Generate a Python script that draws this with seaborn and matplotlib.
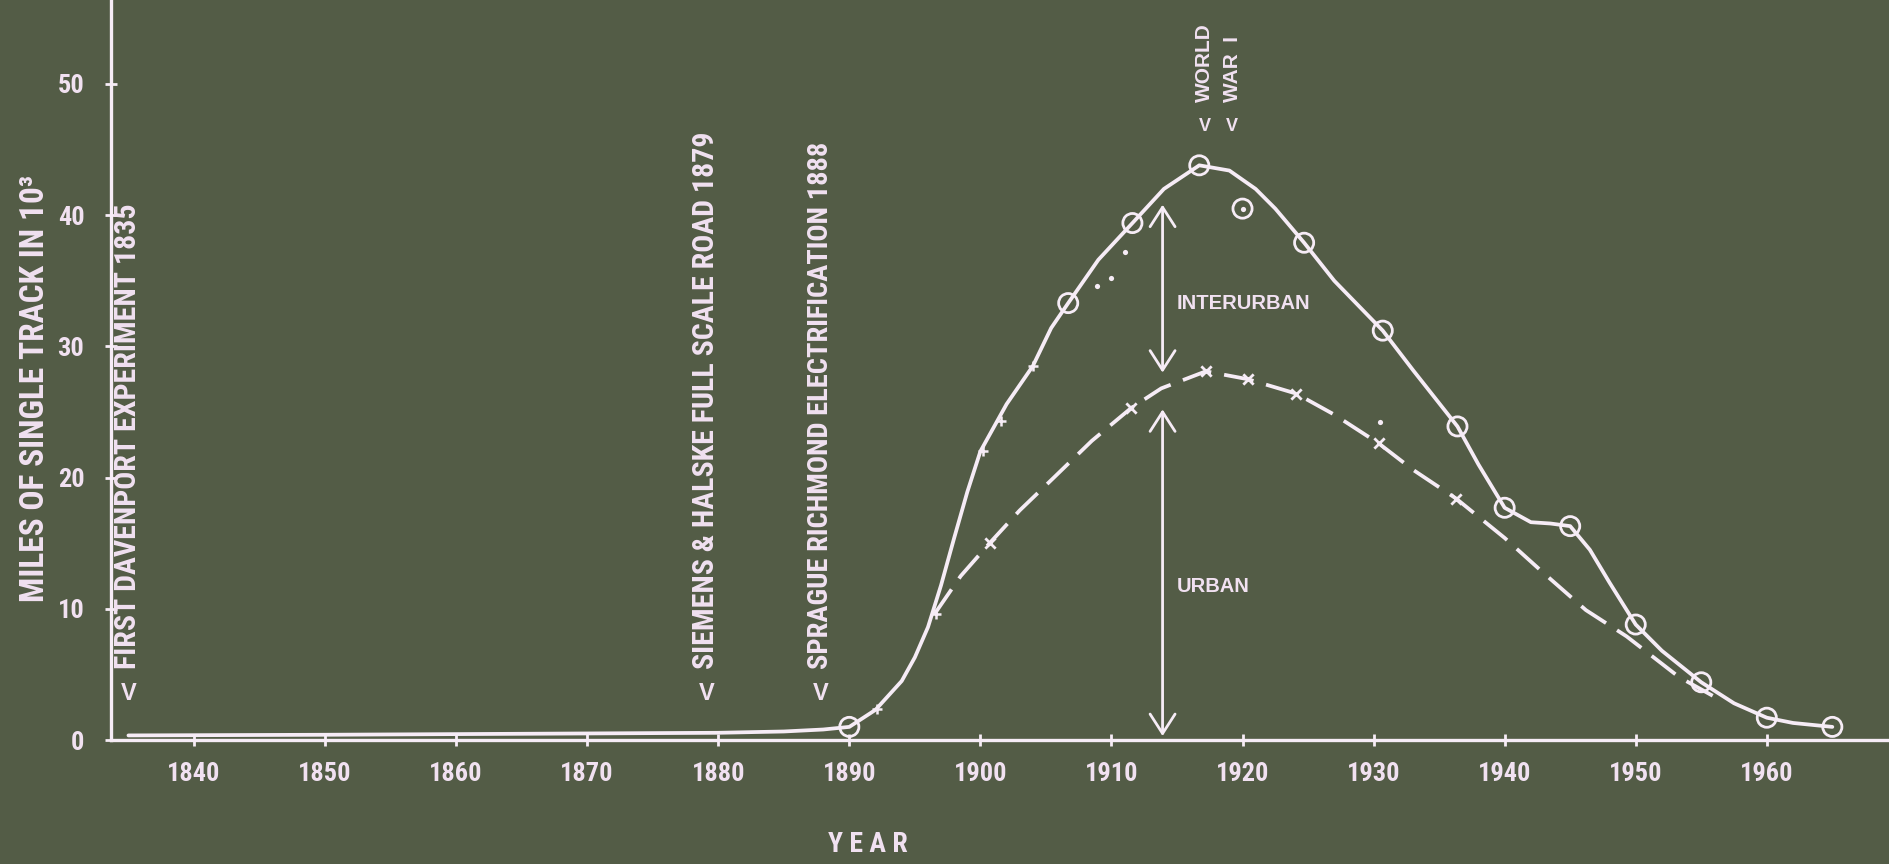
import matplotlib
matplotlib.use("Agg")
import matplotlib.pyplot as plt
from matplotlib import font_manager
import seaborn as sns

# total track miles (solid curve), thousands of miles
total_years = [1835, 1850, 1860, 1870, 1880, 1885, 1888, 1890, 1892, 1894, 1895, 1896,
               1897, 1898, 1899, 1900, 1902, 1904, 1905.4, 1906.7, 1909, 1911.6, 1914,
               1916.7, 1919, 1921, 1922.5, 1924.7, 1927, 1930.7, 1933, 1936.4, 1938,
               1940, 1942, 1943.5, 1945, 1946.5, 1948, 1950, 1952, 1955, 1957.5, 1960,
               1962, 1965]
total_miles = [0.35, 0.4, 0.45, 0.5, 0.55, 0.65, 0.8, 1.0, 2.3, 4.5, 6.3, 8.6,
               11.8, 15.4, 18.9, 22.0, 25.6, 28.5, 31.4, 33.3, 36.6, 39.4, 42.0,
               43.8, 43.4, 42.0, 40.5, 37.9, 35.0, 31.2, 28.2, 23.9, 21.0,
               17.7, 16.6, 16.5, 16.3, 14.5, 12.0, 8.8, 6.8, 4.4, 2.8, 1.7,
               1.3, 1.0]

# plotted observations (open circles)
circle_years = [1890, 1906.7, 1911.6, 1916.7, 1920.0, 1924.7, 1930.7, 1936.4,
                1940, 1945, 1950, 1955, 1960, 1965]
circle_miles = [1.0, 33.3, 39.4, 43.8, 40.5, 37.9, 31.2, 23.9,
                17.7, 16.3, 8.8, 4.4, 1.7, 1.0]

# urban track (dashed curve)
urban_years = [1896.5, 1898.5, 1900.7, 1903, 1905.5, 1908.5, 1911.5, 1913.8, 1917.2,
               1920.4, 1924.1, 1927, 1930.4, 1933, 1936.3, 1940, 1943, 1946.2,
               1949.3, 1953.3, 1956]
urban_miles = [9.6, 12.5, 15.0, 17.5, 19.9, 22.8, 25.3, 26.8, 28.1,
               27.5, 26.4, 24.8, 22.6, 20.6, 18.4, 15.4, 12.7, 9.9,
               7.9, 4.8, 3.3]
cross_years = [1900.7, 1911.5, 1917.2, 1920.4, 1924.1, 1930.4, 1936.3]
cross_miles = [15.0, 25.3, 28.1, 27.5, 26.4, 22.6, 18.4]

# stray marks on the slide
tick_years = [1892.1, 1896.6, 1900.2, 1901.6, 1904.0]
tick_miles = [2.4, 9.6, 22.0, 24.3, 28.5]
dot_years = [1908.9, 1910.0, 1911.0, 1920.0, 1930.5]
dot_miles = [34.6, 35.2, 37.2, 40.5, 24.2]

events = ["FIRST DAVENPORT EXPERIMENT 1835",
          "SIEMENS & HALSKE FULL SCALE ROAD 1879",
          "SPRAGUE RICHMOND ELECTRIFICATION 1888"]
event_years = [1835, 1879.1, 1887.8]
event_sizes = [21.5, 21.5, 20.5]
war_lines = ["WORLD", "WAR  I"]
war_years = [1917.1, 1919.2]

xticks = [1840, 1850, 1860, 1870, 1880, 1890, 1900, 1910, 1920, 1930, 1940, 1950, 1960]
yticks = [0, 10, 20, 30, 40, 50]

bg = "#535c46"
fg = "#f6ecf6"
txt = "#f1e1f1"

sns.set_theme(style="ticks", rc={"axes.facecolor": bg, "figure.facecolor": bg})

names = {f.name for f in font_manager.fontManager.ttflist}
if "Roboto Condensed" in names:
    narrow = dict(family=["Roboto Condensed", "DejaVu Sans"], weight="bold")
elif "Liberation Sans Narrow" in names:
    narrow = dict(family=["Liberation Sans Narrow", "DejaVu Sans"], weight="bold")
else:
    narrow = dict(family=["DejaVu Sans"], weight="bold")
plain = dict(family=["Liberation Sans", "DejaVu Sans"], weight="bold")
plt.rcParams["font.family"] = narrow["family"]

fig = plt.figure(figsize=(18.9, 8.64), dpi=100)
ax = fig.add_axes([0, 0, 1, 1])
ax.set_xlim(1825.2, 1969.4)
ax.set_ylim(-9.45, 56.4)

# curves
sns.lineplot(x=total_years, y=total_miles, ax=ax, color=fg, lw=2.7,
             sort=False, estimator=None)
sns.lineplot(x=urban_years, y=urban_miles, ax=ax, color=fg, lw=2.7,
             sort=False, estimator=None, linestyle=(0, (8, 3.5)))
sns.scatterplot(x=circle_years, y=circle_miles, ax=ax, marker="o", s=190,
                facecolor="none", edgecolor=fg, linewidth=2, zorder=4)
sns.scatterplot(x=cross_years, y=cross_miles, ax=ax, marker="x", s=55,
                color=fg, linewidth=2, zorder=4)
sns.scatterplot(x=tick_years, y=tick_miles, ax=ax, marker="+", s=45,
                color=fg, linewidth=1.8, zorder=4)
sns.scatterplot(x=dot_years, y=dot_miles, ax=ax, marker="o", s=14,
                color=fg, linewidth=0, zorder=4)

# interurban / urban arrows
arrow = dict(arrowstyle="<->,head_length=0.7,head_width=0.45", color=fg, lw=2,
             shrinkA=0, shrinkB=0, mutation_scale=20)
ax.annotate("", xy=(1913.9, 28.0), xytext=(1913.9, 40.8), arrowprops=arrow)
ax.annotate("", xy=(1913.9, 0.3), xytext=(1913.9, 25.2), arrowprops=arrow)
ax.text(1915.0, 33.3, "INTERURBAN", color=txt, fontsize=14.5, va="center", ha="left",
        **plain)
ax.text(1915.0, 11.7, "URBAN", color=txt, fontsize=14.5, va="center", ha="left",
        **plain)

# event notes: a "V" pointer under each rotated label
for label, yr, fs in zip(events, event_years, event_sizes):
    ax.text(yr, 2.7, "V", ha="center", va="bottom", color=txt,
            fontsize=17, **plain)
    ax.text(yr, 5.4, label, rotation=90, ha="center", va="bottom", color=txt,
            fontsize=fs, **narrow)
for label, yr in zip(war_lines, war_years):
    ax.text(yr, 46.1, "V", ha="center", va="bottom", color=txt,
            fontsize=13, **plain)
    ax.text(yr, 48.6, label, rotation=90, ha="center", va="bottom", color=txt,
            fontsize=15, **plain)

# axes drawn as on the slide
for side in ["top", "right"]:
    ax.spines[side].set_visible(False)
ax.spines["left"].set_position(("data", 1833.7))
ax.spines["bottom"].set_position(("data", 0))
ax.spines["left"].set_bounds(0, 56.4)
ax.spines["bottom"].set_bounds(1833.7, 1969.4)
for side in ["left", "bottom"]:
    ax.spines[side].set_color(fg)
    ax.spines[side].set_linewidth(2.4)

ax.set_xticks(xticks)
ax.set_yticks(yticks)
ax.tick_params(axis="both", direction="inout", length=9, width=2, color=fg,
               labelcolor=txt, labelsize=19)
ax.tick_params(axis="y", pad=15)
ax.tick_params(axis="x", pad=11)
for lab in ax.get_xticklabels() + ax.get_yticklabels():
    lab.set_fontweight("bold")

ax.set_xlabel("Y E A R", color=txt, fontsize=20, va="center", **narrow)
ax.xaxis.set_label_coords(0.459, 0.022)
ax.set_ylabel("MILES OF SINGLE TRACK IN 10³", color=txt, fontsize=24, **narrow)
ax.yaxis.set_label_coords(0.027, 0.55)

fig.savefig("out.png", dpi=100, facecolor=bg)
